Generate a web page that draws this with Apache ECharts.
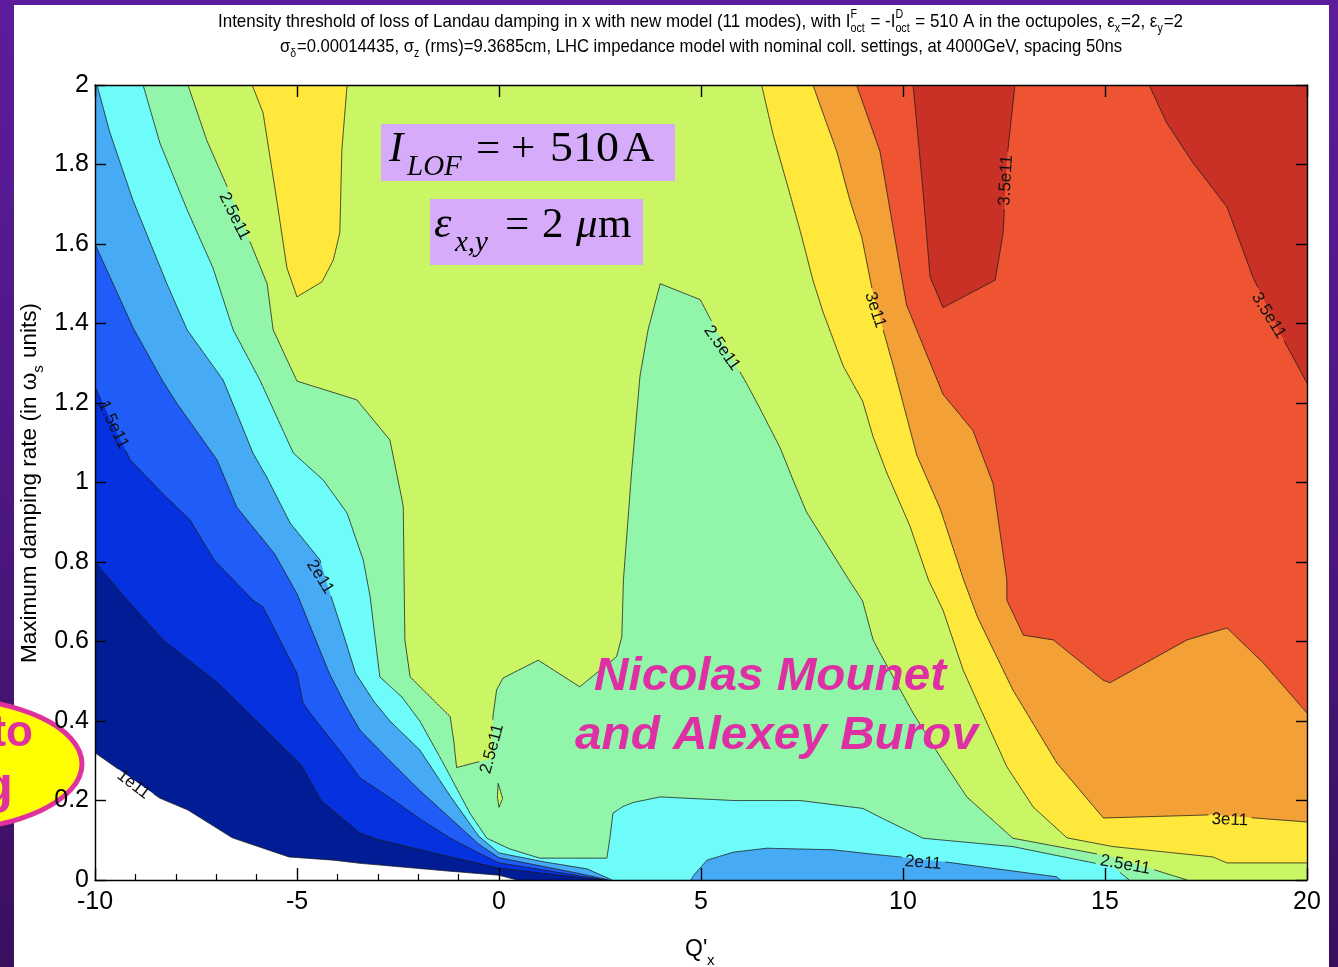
<!DOCTYPE html>
<html><head><meta charset="utf-8">
<script src="https://cdn.jsdelivr.net/npm/echarts@6/dist/echarts.min.js"></script>
<style>
html,body{margin:0;padding:0;width:1338px;height:967px;overflow:hidden;}
body{background:linear-gradient(180deg,#5c1c9c 0%,#4c167f 55%,#3a0f5e 100%);}
#paper{position:absolute;left:14px;top:5px;width:1315px;height:962px;background:#fff;}
#chart{position:absolute;left:0;top:0;width:1338px;height:967px;}
</style></head><body><div id="paper"></div><div id="chart"></div>
<script>
// ---------- axis settings ----------
const X_MIN = -10, X_MAX = 20, X_STEP = 5;
const Y_MIN = 0, Y_MAX = 2, Y_STEP = 0.2;

// ---------- contour levels (e11) and band colours ----------
const levels = [1.0, 1.25, 1.5, 1.75, 2.0, 2.25, 2.5, 2.75, 3.0, 3.25, 3.5];
const bandColors = ['#001D96', '#0531DF', '#1F5CF8', '#46AAF5', '#6EFCFA', '#92F6AA', '#CAF666', '#FFE83C', '#F3A137', '#EE5432', '#C93126'];

// ---------- contour lines [Q'x, damping rate] ----------
const c100 = [[-10,0.32],[-8.4,0.206],[-7.7,0.176],[-6.6,0.106],[-5.2,0.058],[-4.1,0.05],[-3.44,0.042],[-1.2,0.022],[0,0.012],[0.45,0]];
const c125 = [[-10,0.80],[-9.2,0.704],[-8.31,0.604],[-6.95,0.495],[-6.1,0.41],[-4.9,0.29],[-4.4,0.20],[-3.44,0.118],[-3.0,0.102],[-1.2,0.058],[0,0.03],[1.0,0.018],[2.0,0.006],[2.62,0]];
const c150 = [[-10,1.24],[-9.55,1.145],[-9.13,1.057],[-8.3,0.97],[-7.65,0.906],[-7.05,0.805],[-6.09,0.704],[-5.84,0.687],[-5.0,0.52],[-4.85,0.445],[-4.6,0.41],[-3.86,0.315],[-3.44,0.257],[-2.6,0.20],[-1.9,0.15],[-1.2,0.105],[-0.5,0.068],[0,0.043],[1.0,0.027],[2.0,0.01],[2.68,0]];
const c175 = [[-10,1.60],[-9.06,1.39],[-8.34,1.258],[-7.98,1.2],[-6.98,1.057],[-6.49,0.938],[-5.55,0.82],[-5.0,0.72],[-4.6,0.62],[-4.2,0.52],[-3.8,0.44],[-3.44,0.377],[-2.7,0.30],[-1.96,0.225],[-1.2,0.155],[-0.5,0.09],[0,0.056],[1.0,0.036],[2.0,0.016],[2.72,0]];
const c200 = [[-9.95,2],[-9.63,1.88],[-9.06,1.71],[-8.22,1.50],[-7.72,1.384],[-6.83,1.258],[-6.49,1.174],[-6.09,1.074],[-5.75,1.014],[-5.17,0.898],[-4.43,0.805],[-4.18,0.721],[-3.86,0.621],[-3.55,0.52],[-3.1,0.45],[-2.7,0.40],[-1.96,0.327],[-1.2,0.21],[-0.5,0.11],[0,0.068],[1.09,0.046],[2.18,0.028],[2.8,0]];
const c200b = [[4.75,0],[4.82,0.012],[5.15,0.05],[5.8,0.07],[6.63,0.08],[8.27,0.076],[9.43,0.063],[9.93,0.058],[11.08,0.045],[13.8,0.008],[13.9,0]];
const c225 = [[-8.81,2],[-8.39,1.853],[-7.72,1.686],[-7.08,1.54],[-6.58,1.384],[-5.92,1.258],[-5.09,1.074],[-4.35,1.006],[-3.76,0.923],[-3.36,0.805],[-3.19,0.713],[-2.95,0.511],[-2.4,0.46],[-1.96,0.40],[-1.38,0.294],[-0.72,0.168],[-0.3,0.105],[0.27,0.078],[1.01,0.055],[2.67,0.055],[2.75,0.109],[2.82,0.168],[3.07,0.185],[3.32,0.195],[3.99,0.209],[5.8,0.20],[7.45,0.20],[9.01,0.18],[9.43,0.158],[10.5,0.105],[12.72,0.084],[15.2,0.033],[15.6,0]];
const c250 = [[-7.7,2],[-7.23,1.86],[-6.58,1.71],[-5.74,1.50],[-5.59,1.384],[-5.0,1.255],[-3.52,1.208],[-2.7,1.107],[-2.4,0.956],[-2.37,0.938],[-2.33,0.604],[-2.2,0.511],[-1.21,0.411],[-1.12,0.35],[-1.05,0.283],[-0.17,0.306],[-0.15,0.411],[-0.06,0.478],[0.1,0.508],[0.97,0.553],[2.0,0.486],[2.91,0.562],[3.04,0.612],[3.08,0.755],[3.28,1.024],[3.49,1.268],[3.69,1.384],[3.99,1.50],[4.98,1.46],[5.5,1.36],[6.13,1.249],[6.46,1.186],[6.96,1.087],[7.28,1.006],[7.61,0.926],[8.11,0.845],[8.6,0.765],[9.0,0.702],[9.26,0.604],[9.43,0.571],[10.25,0.42],[10.92,0.31],[11.58,0.209],[12.72,0.105],[15.2,0.058],[17.03,0]];
const c250dot = [[-0.02,0.243],[0.09,0.205],[0.0,0.183],[-0.04,0.209]];
const c275 = [[6.5,2],[6.78,1.877],[7.2,1.726],[7.45,1.635],[7.77,1.509],[8.02,1.429],[8.52,1.293],[9.0,1.205],[9.26,1.115],[9.6,1.024],[10.17,0.891],[10.63,0.755],[10.99,0.679],[11.49,0.528],[11.9,0.435],[12.57,0.285],[13.22,0.184],[14.06,0.106],[15.2,0.084],[17.67,0.058],[18.02,0.043],[20,0.043]];
const c275isle = [[-6.11,2],[-5.84,1.93],[-5.5,1.71],[-5.25,1.54],[-5.0,1.467],[-4.38,1.505],[-4.1,1.56],[-3.94,1.628],[-3.89,1.836],[-3.76,2]];
const c300 = [[7.77,2],[8.36,1.833],[8.69,1.708],[8.98,1.617],[9.26,1.474],[9.76,1.293],[10.34,1.069],[10.92,0.934],[11.5,0.755],[11.85,0.66],[12.72,0.478],[13.81,0.294],[14.96,0.156],[17.67,0.164],[20,0.146]];
const c325 = [[8.85,2],[9.43,1.833],[9.93,1.537],[10.09,1.446],[10.99,1.222],[11.73,1.131],[12.23,0.997],[12.57,0.755],[12.57,0.704],[12.98,0.616],[13.72,0.604],[14.95,0.503],[15.12,0.496],[17.03,0.604],[18.02,0.634],[18.92,0.546],[20,0.42]];
const c350a = [[10.25,2],[10.5,1.728],[10.67,1.517],[10.99,1.44],[12.28,1.509],[12.48,1.628],[12.57,1.811],[12.77,2]];
const c350b = [[16.09,2],[16.53,1.904],[17.18,1.804],[18.02,1.693],[18.66,1.517],[19.33,1.376],[20,1.25]];

// ---------- contour labels ----------
const labelTexts = ['2.5e11','1.5e11','2e11','1e11','2.5e11','2.5e11','3e11','3.5e11','3.5e11','3e11','2.5e11','2e11'];
const labelPos = [[-6.55,1.67],[-9.55,1.145],[-4.43,0.762],[-9.05,0.24],[-0.17,0.33],[5.52,1.338],[9.31,1.434],[12.55,1.76],[19.05,1.42],[18.09,0.151],[15.5,0.038],[10.5,0.043]];
const labelRot = [-64,-65,-58,-37,75,-55,-72,87,-58,-2,-10,-5];

// ---------- filled regions (painted low to high) ----------
const TL = [X_MIN, Y_MAX], TR = [X_MAX, Y_MAX], BR = [X_MAX, Y_MIN];
const regions = [
  { pts: [...c100, BR, TR, TL], color: bandColors[0] },
  { pts: [...c125, BR, TR, TL], color: bandColors[1] },
  { pts: [...c150, BR, TR, TL], color: bandColors[2] },
  { pts: [...c175, BR, TR, TL], color: bandColors[3] },
  { pts: [...c200, ...c200b, BR, TR], color: bandColors[4] },
  { pts: [...c225, BR, TR], color: bandColors[5] },
  { pts: [...c250, BR, TR], color: bandColors[6] },
  { pts: c250dot, color: bandColors[6] },
  { pts: [...c275, TR], color: bandColors[7] },
  { pts: c275isle, color: bandColors[7] },
  { pts: [...c300, TR], color: bandColors[8] },
  { pts: [...c325, TR], color: bandColors[9] },
  { pts: c350a, color: bandColors[10] },
  { pts: [...c350b, TR], color: bandColors[10] }
];
const contourLines = [c100, c125, c150, c175, c200, c200b, c225, c250, [...c250dot, c250dot[0]], c275, c275isle, c300, c325, c350a, c350b];

// ---------- text helpers ----------
const SANS = '"Liberation Sans", Arial, Helvetica, sans-serif';
const SERIF = '"Liberation Serif", "Times New Roman", serif';
const LABEL_FONT = '17px ' + SANS;
const mctx = document.createElement('canvas').getContext('2d');
function measure(t, font) { mctx.font = font; return mctx.measureText(t).width; }
function fontStr(size, o) { return ((o.style || '') + ' ' + (o.weight || '') + ' ' + size + 'px ' + (o.serif ? SERIF : SANS)).trim(); }
function T(str, x, base, size, o = {}) {
  const k = o.serif ? 0.3375 : 0.3465;
  const al = o.align || 'left';
  return { type: 'text', x: x, y: base - k * size, z: (o.z !== undefined ? o.z : 50), scaleX: o.sx || 1,
    style: { text: str, font: fontStr(size, o), fill: o.color || '#000', textAlign: al, align: al, textVerticalAlign: 'middle', verticalAlign: 'middle' } };
}
function fitT(str, left, right, base, size, o = {}) {
  const w = measure(str, fontStr(size, o));
  return T(str, left, base, size, Object.assign({}, o, { sx: (right - left) / w }));
}
function layoutRich(segs, left, right, base, fsMain, fsSmall) {
  const fm = fsMain + 'px ' + SANS, fsm = fsSmall + 'px ' + SANS;
  let W = 0; const items = [];
  segs.forEach(s => {
    if (s.n !== undefined) { items.push({ x: W, parts: [{ t: s.n, dy: 0, fs: fsMain }] }); W += measure(s.n, fm); }
    else if (s.sub !== undefined) { items.push({ x: W, parts: [{ t: s.sub, dy: 5, fs: fsSmall }] }); W += measure(s.sub, fsm) + 1; }
    else if (s.stack) { items.push({ x: W, parts: [{ t: s.stack[0], dy: -9, fs: fsSmall }, { t: s.stack[1], dy: 5, fs: fsSmall }] });
      W += Math.max(measure(s.stack[0], fsm), measure(s.stack[1], fsm)) + 1; }
  });
  const sc = (right - left) / W; const els = [];
  items.forEach(it => it.parts.forEach(p => els.push(T(p.t, left + it.x * sc, base + p.dy, p.fs, { sx: sc }))));
  return els;
}

// ---------- titles ----------
const title1 = [{ n: 'Intensity threshold of loss of Landau damping in x with new model (11 modes), with I' }, { stack: ['F', 'oct'] }, { n: ' = -I' }, { stack: ['D', 'oct'] }, { n: ' = 510 A in the octupoles, \u03b5' }, { sub: 'x' }, { n: '=2, \u03b5' }, { sub: 'y' }, { n: '=2' }];
const title2 = [{ n: '\u03c3' }, { sub: '\u03b4' }, { n: '=0.00014435, \u03c3' }, { sub: 'z' }, { n: ' (rms)=9.3685cm, LHC impedance model with nominal coll. settings, at 4000GeV, spacing 50ns' }];

const graphics = [];
graphics.push(...layoutRich(title1, 218, 1183, 28, 19, 12));
graphics.push(...layoutRich(title2, 280, 1122, 53, 19, 12));

// y axis title (rotated)
(function () {
  const fs = 22.5, fss = 15;
  const p1 = 'Maximum damping rate (in \u03c9', p2 = 's', p3 = ' units)';
  const w1 = measure(p1, fs + 'px ' + SANS), w2 = measure(p2, fss + 'px ' + SANS) + 1, w3 = measure(p3, fs + 'px ' + SANS);
  const s = 360 / (w1 + w2 + w3);
  const bx = 38, start = 663;
  const mk = (t, d, size, off) => ({ type: 'text', x: bx + off - 0.3465 * size, y: start - d * s, rotation: Math.PI / 2, scaleX: s, z: 50,
    style: { text: t, font: size + 'px ' + SANS, fill: '#000', textAlign: 'left', align: 'left', textVerticalAlign: 'middle', verticalAlign: 'middle' } });
  graphics.push(mk(p1, 0, fs, 0), mk(p2, w1, fss, 6), mk(p3, w1 + w2, fs, 0));
})();
// x axis title
graphics.push(T("Q'", 685, 958, 23), T('x', 707, 966, 15));

// annotation boxes
graphics.push({ type: 'rect', shape: { x: 381, y: 124, width: 294, height: 57 }, style: { fill: '#D6ACFA' }, z: 40 });
graphics.push({ type: 'rect', shape: { x: 430, y: 199, width: 213, height: 66 }, style: { fill: '#D6ACFA' }, z: 40 });
graphics.push(T('I', 389, 164, 43, { serif: true, style: 'italic', z: 41 }));
graphics.push(T('LOF', 407, 177, 29, { serif: true, style: 'italic', z: 41 }));
graphics.push(T('=', 476, 164, 43, { serif: true, z: 41 }));
graphics.push(T('+', 511, 164, 43, { serif: true, z: 41 }));
graphics.push(fitT('510', 550, 619, 164, 43, { serif: true, z: 41 }));
graphics.push(T('A', 623, 164, 43, { serif: true, z: 41 }));
graphics.push(T('\u03b5', 434, 240, 44, { serif: true, style: 'italic', z: 41 }));
graphics.push(T('x,y', 455, 253, 29, { serif: true, style: 'italic', z: 41 }));
graphics.push(T('=', 505, 240, 43, { serif: true, z: 41 }));
graphics.push(T('2', 542, 240, 43, { serif: true, z: 41 }));
graphics.push(T('\u03bc', 576, 240, 43, { serif: true, style: 'italic', z: 41 }));
graphics.push(T('m', 598, 240, 43, { serif: true, z: 41 }));

// authors
graphics.push(fitT('Nicolas Mounet', 594, 946, 693, 47, { style: 'italic', weight: 'bold', color: '#DE2FA4', z: 41 }));
graphics.push(fitT('and Alexey Burov', 575, 978, 752, 47, { style: 'italic', weight: 'bold', color: '#DE2FA4', z: 41 }));

// yellow callout at left edge
graphics.push({ type: 'ellipse', shape: { cx: -60, cy: 764, rx: 142, ry: 66 }, style: { fill: '#FFFF00', stroke: '#E0329F', lineWidth: 5 }, z: 1 });
graphics.push(T('to', 33, 749, 44, { weight: 'bold', color: '#E0329F', align: 'right', z: 2 }));
graphics.push(T('ng', 13, 806, 52, { weight: 'bold', color: '#E0329F', align: 'right', z: 2 }));

// ---------- contour line drawing with gaps under the inline labels ----------
function labelBoxes(api) {
  return labelPos.map((p, i) => {
    const c = api.coord(p), a = -labelRot[i] * Math.PI / 180;
    return { c, u: [Math.cos(a), Math.sin(a)], h: measure(labelTexts[i], LABEL_FONT) / 2 + 3, w: 8 };
  });
}
function inGap(pt, boxes) {
  for (const b of boxes) {
    const dx = pt[0] - b.c[0], dy = pt[1] - b.c[1];
    const al = dx * b.u[0] + dy * b.u[1], pe = -dx * b.u[1] + dy * b.u[0];
    if (Math.abs(al) < b.h && Math.abs(pe) < b.w) return true;
  }
  return false;
}
function splitLine(px, boxes) {
  const runs = []; let cur = [];
  for (let k = 0; k < px.length - 1; k++) {
    const a = px[k], b = px[k + 1];
    const n = Math.max(1, Math.ceil(Math.hypot(b[0] - a[0], b[1] - a[1]) / 1.5));
    for (let j = 0; j < n; j++) {
      const t = j / n, q = [a[0] + (b[0] - a[0]) * t, a[1] + (b[1] - a[1]) * t];
      if (inGap(q, boxes)) { if (cur.length > 1) runs.push(cur); cur = []; } else cur.push(q);
    }
  }
  const last = px[px.length - 1];
  if (!inGap(last, boxes)) cur.push(last);
  if (cur.length > 1) runs.push(cur);
  return runs;
}

// ---------- chart ----------
const chart = echarts.init(document.getElementById('chart'), null, { renderer: 'canvas' });
const axisLineStyle = { color: '#000', width: 1.4 };
const tickLabel = { fontSize: 25, color: '#000', fontFamily: SANS };
chart.setOption({
  animation: false,
  backgroundColor: 'transparent',
  grid: { left: 95, top: 85, width: 1212, height: 795, containLabel: false, outerBoundsMode: 'none' },
  xAxis: [
    { type: 'value', min: X_MIN, max: X_MAX, interval: X_STEP, position: 'bottom', z: 0,
      axisLine: { show: false, onZero: false }, axisTick: { show: false, inside: true }, axisLabel: { show: false }, splitLine: { show: false },
      minorTick: { show: true, splitNumber: 5, length: 6, lineStyle: { color: '#000', width: 1.2 } }, minorSplitLine: { show: false } },
    { type: 'value', min: X_MIN, max: X_MAX, interval: X_STEP, position: 'bottom', z: 10,
      axisLine: { show: true, onZero: false, lineStyle: axisLineStyle }, axisTick: { inside: true, length: 12, lineStyle: axisLineStyle },
      axisLabel: Object.assign({ margin: 10, showMinLabel: true, showMaxLabel: true }, tickLabel), splitLine: { show: false } },
    { type: 'value', min: X_MIN, max: X_MAX, interval: X_STEP, position: 'top', z: 10,
      axisLine: { show: true, onZero: false, lineStyle: axisLineStyle }, axisTick: { inside: true, length: 12, lineStyle: axisLineStyle },
      axisLabel: { show: false }, splitLine: { show: false } }
  ],
  yAxis: [
    { type: 'value', min: Y_MIN, max: Y_MAX, interval: Y_STEP, position: 'left', z: 10,
      axisLine: { show: true, onZero: false, lineStyle: axisLineStyle }, axisTick: { inside: true, length: 11, lineStyle: axisLineStyle },
      axisLabel: Object.assign({ margin: 6, showMinLabel: true, showMaxLabel: true }, tickLabel), splitLine: { show: false } },
    { type: 'value', min: Y_MIN, max: Y_MAX, interval: Y_STEP, position: 'right', z: 10,
      axisLine: { show: true, onZero: false, lineStyle: axisLineStyle }, axisTick: { inside: true, length: 11, lineStyle: axisLineStyle },
      axisLabel: { show: false }, splitLine: { show: false } }
  ],
  graphic: { elements: graphics },
  series: [
    { type: 'custom', name: 'bands', xAxisIndex: 1, yAxisIndex: 0, z: 2, silent: true, clip: true,
      data: regions.map((r, i) => [r.pts[0][0], r.pts[0][1], i]),
      renderItem: (params, api) => {
        const r = regions[params.dataIndex];
        return { type: 'polygon', shape: { points: r.pts.map(p => api.coord(p)) }, style: { fill: r.color } };
      } },
    { type: 'custom', name: 'contours', xAxisIndex: 1, yAxisIndex: 0, z: 3, silent: true, clip: true,
      data: contourLines.map((l, i) => [l[0][0], l[0][1], i]),
      renderItem: (params, api) => {
        const l = contourLines[params.dataIndex];
        const runs = splitLine(l.map(p => api.coord(p)), labelBoxes(api));
        return { type: 'group', children: runs.map(r => ({ type: 'polyline', shape: { points: r }, style: { stroke: '#1a1a1a', lineWidth: 0.8, fill: null } })) };
      } },
    { type: 'custom', name: 'clabels', xAxisIndex: 1, yAxisIndex: 0, z: 4, silent: true, clip: false,
      data: labelPos.map((p, i) => [p[0], p[1], i]),
      renderItem: (params, api) => {
        const i = params.dataIndex; const c = api.coord(labelPos[i]);
        return { type: 'text', x: c[0], y: c[1], rotation: labelRot[i] * Math.PI / 180,
          style: { text: labelTexts[i], font: LABEL_FONT, fill: '#111', textAlign: 'center', align: 'center', textVerticalAlign: 'middle', verticalAlign: 'middle' } };
      } }
  ]
});
</script></body></html>
